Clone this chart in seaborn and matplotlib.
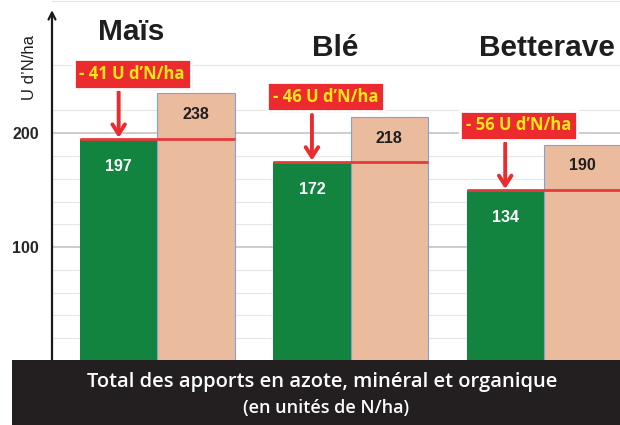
import pandas as pd
import seaborn as sns
import matplotlib.pyplot as plt
import matplotlib.patheffects as pe
from matplotlib.patches import Rectangle

# données
cultures = ["Maïs", "Blé", "Betterave"]
hauteur_vert = [195, 175, 150]      # hauteur des barres vertes telle que dessinée
hauteur_rose = [235, 214, 190]      # hauteur des barres roses
etiquette_vert = [197, 172, 134]    # valeurs affichées
etiquette_rose = [238, 218, 190]
grilles = [20, 40, 60, 80, 100, 120, 140, 160, 180, 200, 220, 260]

vert = "#13843F"
rose = "#EBBB9E"
rouge = "#EC2B2F"

sns.set_style("white")
plt.rcParams['font.family'] = ['Liberation Sans', 'DejaVu Sans']

dados = pd.DataFrame({
    'culture': cultures * 2,
    'type': ['vert'] * 3 + ['rose'] * 3,
    'valeur': hauteur_vert + hauteur_rose,
})

fig = plt.figure(figsize=(6.2, 4.25), dpi=100)
ax = fig.add_axes([52 / 620, 64 / 425, 568 / 620, 360 / 425])

sns.barplot(data=dados, x='culture', y='valeur', hue='type', palette=[vert, rose],
            width=0.8, dodge=True, legend=False, ax=ax, zorder=3, saturation=1)

for p in ax.patches:
    if p.get_facecolor()[0] > 0.5:
        p.set_edgecolor("#7FA3D6")
        p.set_linewidth(0.8)
    else:
        p.set_edgecolor("none")

ax.set_xlim(-0.545, 2.394)
ax.set_ylim(0, 316)

# grille horizontale
for g in grilles:
    ax.axhline(g, color="#C4C4C4" if g % 100 == 0 else "#E6E6E6",
               lw=1.2 if g % 100 == 0 else 0.8, zorder=1)

ax.set_xticks([])
ax.set_xlabel("")
ax.set_ylabel("")
ax.set_yticks([100, 200])
ax.set_yticklabels(["100", "200"], fontsize=11.5, fontweight='bold')
ax.set_yticks(range(20, 300, 20), minor=True)
ax.tick_params(axis='y', which='major', length=3, width=1, direction='inout', pad=8)
ax.tick_params(axis='y', which='minor', length=3, width=1, direction='inout')
for s in ['left', 'right', 'bottom']:
    ax.spines[s].set_visible(False)
ax.spines['top'].set_color("#E4E4E4")
ax.spines['top'].set_linewidth(0.8)

# axe vertical avec flèche
ax.annotate('', xy=(-0.545, 308), xytext=(-0.545, 0),
            arrowprops=dict(arrowstyle='->,head_width=0.25,head_length=0.5',
                            color='#1A1A1A', lw=1.6, shrinkA=0, shrinkB=0),
            annotation_clip=False, zorder=6)

titres_x = [-0.135, 0.92, 2.015]
titres_y = [289, 275, 275]
for i, c in enumerate(cultures):
    ax.text(titres_x[i], titres_y[i], c, ha='center', va='center',
            fontsize=21.5, fontweight='bold', color='#1E1E1E')

for i in range(3):
    gx = i - 0.2
    hv = hauteur_vert[i]
    hr = hauteur_rose[i]
    # ligne rouge au niveau de la barre verte
    ax.plot([i - 0.4, i + 0.4], [hv, hv], color="#E8393D", lw=2, zorder=5,
            solid_capstyle='butt')
    ax.annotate(str(etiquette_vert[i]), (gx, hv), xytext=(0, -20),
                textcoords='offset points', ha='center', va='center',
                fontsize=11.5, fontweight='bold', color='white', zorder=6)
    ax.annotate(str(etiquette_rose[i]), (i + 0.2, hr), xytext=(0, -15),
                textcoords='offset points', ha='center', va='center',
                fontsize=11.5, fontweight='bold', color='#1E1E1E', zorder=6)
    # flèche rouge
    ax.annotate('', xy=(gx, hv + 1), xytext=(gx, hv + 41),
                arrowprops=dict(arrowstyle='->,head_width=0.45,head_length=0.7',
                                color=rouge, lw=2.8, shrinkA=0, shrinkB=0),
                zorder=6)
    # encadré de la différence
    diff = etiquette_rose[i] - etiquette_vert[i]
    t = ax.text(gx + 0.07, hv + 57, "- %d U d\u2019N/ha" % diff, ha='center', va='center',
                fontsize=12, fontweight='bold', color='#FFE81A',
                family=['Open Sans', 'DejaVu Sans'], zorder=7,
                bbox=dict(boxstyle='square,pad=0.34', fc=rouge, ec='white', lw=2))
    t.get_bbox_patch().set_path_effects([
        pe.withSimplePatchShadow(offset=(1.5, -1.5), shadow_rgbFace='#808080', alpha=0.5)])

fig.text(30 / 620, 1 - 68 / 425, "U d\u2019N/ha", rotation=90, ha='center', va='center',
         fontsize=12, color='#1E1E1E')

# bandeau noir du bas
fig.patches.append(Rectangle((12 / 620, 0), 1, 65 / 425, transform=fig.transFigure,
                             facecolor='#231F20', edgecolor='none', zorder=10))
fig.text(322 / 620, 1 - 382 / 425, "Total des apports en azote, minéral et organique",
         ha='center', va='center', fontsize=14.5, color='white', fontweight='semibold',
         family=['Open Sans', 'DejaVu Sans'], zorder=11)
fig.text(326 / 620, 1 - 408 / 425, "(en unités de N/ha)",
         ha='center', va='center', fontsize=13, color='white', fontweight='semibold',
         family=['Open Sans', 'DejaVu Sans'], zorder=11)

plt.savefig('out.png', dpi=100)
